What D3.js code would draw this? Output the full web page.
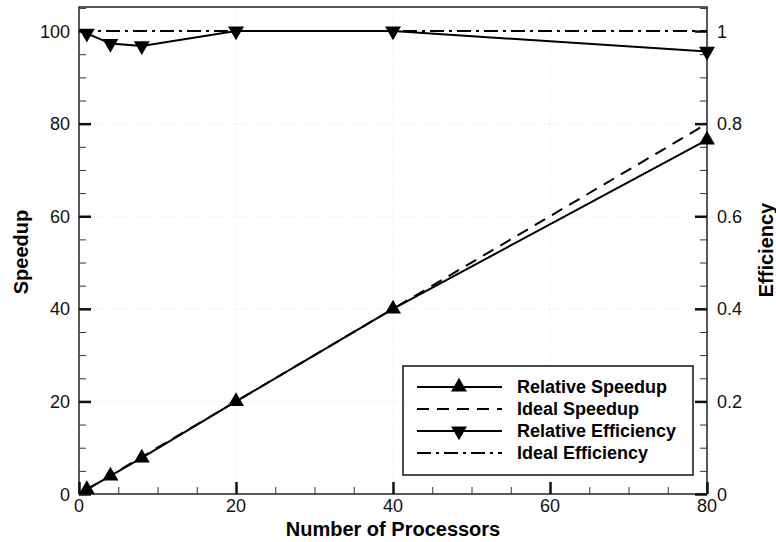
<!DOCTYPE html>
<html>
<head>
<meta charset="utf-8">
<script src="https://cdn.jsdelivr.net/npm/d3@7"></script>
<style>
  body { margin: 0; background: #fff; }
  svg text { font-family: Arial, "Liberation Sans", sans-serif; }
</style>
</head>
<body>
<svg id="chart" width="776" height="542"></svg>
<script>
// Data
const processors = [1, 4, 8, 20, 40, 80];
const relSpeedup = [1, 3.9, 7.8, 20, 40, 76.5];
const idealSpeedupX = [1, 80];
const idealSpeedupY = [1, 80];
const relEfficiency = [0.995, 0.973, 0.968, 1.0, 1.0, 0.956];
const idealEffX = [0, 80];
const idealEffY = [1, 1];
const xTicks = [0, 20, 40, 60, 80];
const ySpeedTicks = [0, 20, 40, 60, 80, 100];
const yEffTicks = [0, 0.2, 0.4, 0.6, 0.8, 1];
const legendLabels = ['Relative Speedup', 'Ideal Speedup', 'Relative Efficiency', 'Ideal Efficiency'];

const svg = d3.select('#chart');
const plotL = 79, plotR = 707, plotT = 7, plotB = 494;

const x = d3.scaleLinear().domain([0, 80]).range([plotL, plotR]);
const yS = d3.scaleLinear().domain([0, 105.2]).range([plotB, plotT]);
const yE = d3.scaleLinear().domain([0, 1.052]).range([plotB, plotT]);

// faint grid at major ticks
const grid = svg.append('g').attr('stroke', '#e6e6e6').attr('stroke-dasharray', '1,2').attr('stroke-width', 1);
xTicks.slice(1, -1).forEach(t => {
  grid.append('line').attr('x1', x(t)).attr('x2', x(t)).attr('y1', plotT).attr('y2', plotB);
});
ySpeedTicks.slice(1, -1).forEach(t => {
  grid.append('line').attr('x1', plotL).attr('x2', plotR).attr('y1', yS(t)).attr('y2', yS(t));
});

// frame
svg.append('rect').attr('x', plotL).attr('y', plotT).attr('width', plotR - plotL).attr('height', plotB - plotT)
  .attr('fill', 'none').attr('stroke', '#222').attr('stroke-width', 1.5);

// axes: inward ticks
const minorX = d3.range(0, 81, 5).filter(v => v % 20);
const minorS = d3.range(0, 106, 5).filter(v => v % 20);
const minorE = d3.range(0, 1.051, 0.05).filter(v => Math.round(v * 100) % 20);

svg.append('g').attr('transform', `translate(0,${plotB})`)
  .call(d3.axisTop(x).tickValues(xTicks).tickSize(12).tickFormat(''));
svg.append('g').attr('transform', `translate(0,${plotB})`)
  .call(d3.axisTop(x).tickValues(minorX).tickSize(7).tickFormat(''))
  .attr('class', 'minor');
svg.append('g').attr('transform', `translate(${plotL},0)`)
  .call(d3.axisRight(yS).tickValues(ySpeedTicks).tickSize(12).tickFormat(''));
svg.append('g').attr('transform', `translate(${plotL},0)`)
  .call(d3.axisRight(yS).tickValues(minorS).tickSize(7).tickFormat('')).attr('class', 'minor');
svg.append('g').attr('transform', `translate(${plotR},0)`)
  .call(d3.axisLeft(yE).tickValues(yEffTicks).tickSize(12).tickFormat(''));
svg.append('g').attr('transform', `translate(${plotR},0)`)
  .call(d3.axisLeft(yE).tickValues(minorE).tickSize(7).tickFormat('')).attr('class', 'minor');

svg.selectAll('.domain').remove();
svg.selectAll('.tick line').attr('stroke', '#111').attr('stroke-width', 2.5);
svg.selectAll('.minor .tick line').attr('stroke', '#333').attr('stroke-width', 1);

// tick labels
const lab = svg.append('g').attr('font-size', 18).attr('fill', '#111');
xTicks.forEach(t => {
  lab.append('text').attr('x', x(t)).attr('y', plotB + 18).attr('text-anchor', 'middle').text(t);
});
ySpeedTicks.forEach(t => {
  lab.append('text').attr('x', plotL - 9).attr('y', yS(t) + 6.5).attr('text-anchor', 'end').text(t);
});
yEffTicks.forEach(t => {
  lab.append('text').attr('x', plotR + 10).attr('y', yE(t) + 6.5).attr('text-anchor', 'start').text(t);
});

// axis titles
svg.append('text').attr('x', x(40)).attr('y', 536).attr('text-anchor', 'middle')
  .attr('font-size', 20).attr('font-weight', 'bold').text('Number of Processors');
svg.append('text').attr('transform', `translate(28,252) rotate(-90)`)
  .attr('text-anchor', 'middle').attr('font-size', 20).attr('font-weight', 'bold').text('Speedup');
svg.append('text').attr('transform', `translate(773,250) rotate(-90)`)
  .attr('text-anchor', 'middle').attr('font-size', 20).attr('font-weight', 'bold').text('Efficiency');

// lines
const plot = svg.append('g');
const lineS = d3.line().x(d => x(d[0])).y(d => yS(d[1]));
const lineE = d3.line().x(d => x(d[0])).y(d => yE(d[1]));

plot.append('path').attr('d', lineS(d3.zip(idealSpeedupX, idealSpeedupY)))
  .attr('fill', 'none').attr('stroke', '#000').attr('stroke-width', 2).attr('stroke-dasharray', '12,8');
plot.append('path').attr('d', lineE(d3.zip(idealEffX, idealEffY)))
  .attr('fill', 'none').attr('stroke', '#000').attr('stroke-width', 2).attr('stroke-dasharray', '14,5,3,5');
plot.append('path').attr('d', lineS(d3.zip(processors, relSpeedup)))
  .attr('fill', 'none').attr('stroke', '#000').attr('stroke-width', 2);
plot.append('path').attr('d', lineE(d3.zip(processors, relEfficiency)))
  .attr('fill', 'none').attr('stroke', '#000').attr('stroke-width', 2);

const tri = d3.symbol().type(d3.symbolTriangle).size(110);
processors.forEach((p, i) => {
  plot.append('path').attr('d', tri()).attr('transform', `translate(${x(p)},${yS(relSpeedup[i])})`).attr('fill', '#000');
  plot.append('path').attr('d', tri()).attr('transform', `translate(${x(p)},${yE(relEfficiency[i])}) rotate(180)`).attr('fill', '#000');
});

// legend
const lg = svg.append('g');
lg.append('rect').attr('x', 403).attr('y', 366).attr('width', 290).attr('height', 109)
  .attr('fill', '#fff').attr('stroke', '#111').attr('stroke-width', 1.5);
const dashes = [null, '12,8', null, '14,5,3,5'];
legendLabels.forEach((name, i) => {
  const yy = 387 + i * 22;
  lg.append('line').attr('x1', 417).attr('x2', 502).attr('y1', yy).attr('y2', yy)
    .attr('stroke', '#000').attr('stroke-width', 2).attr('stroke-dasharray', dashes[i]);
  if (i === 0) lg.append('path').attr('d', tri()).attr('transform', `translate(459,${yy})`).attr('fill', '#000');
  if (i === 2) lg.append('path').attr('d', tri()).attr('transform', `translate(459,${yy}) rotate(180)`).attr('fill', '#000');
  lg.append('text').attr('x', 517).attr('y', yy + 6).attr('font-size', 18).attr('font-weight', 'bold').text(name);
});
</script>
</body>
</html>
